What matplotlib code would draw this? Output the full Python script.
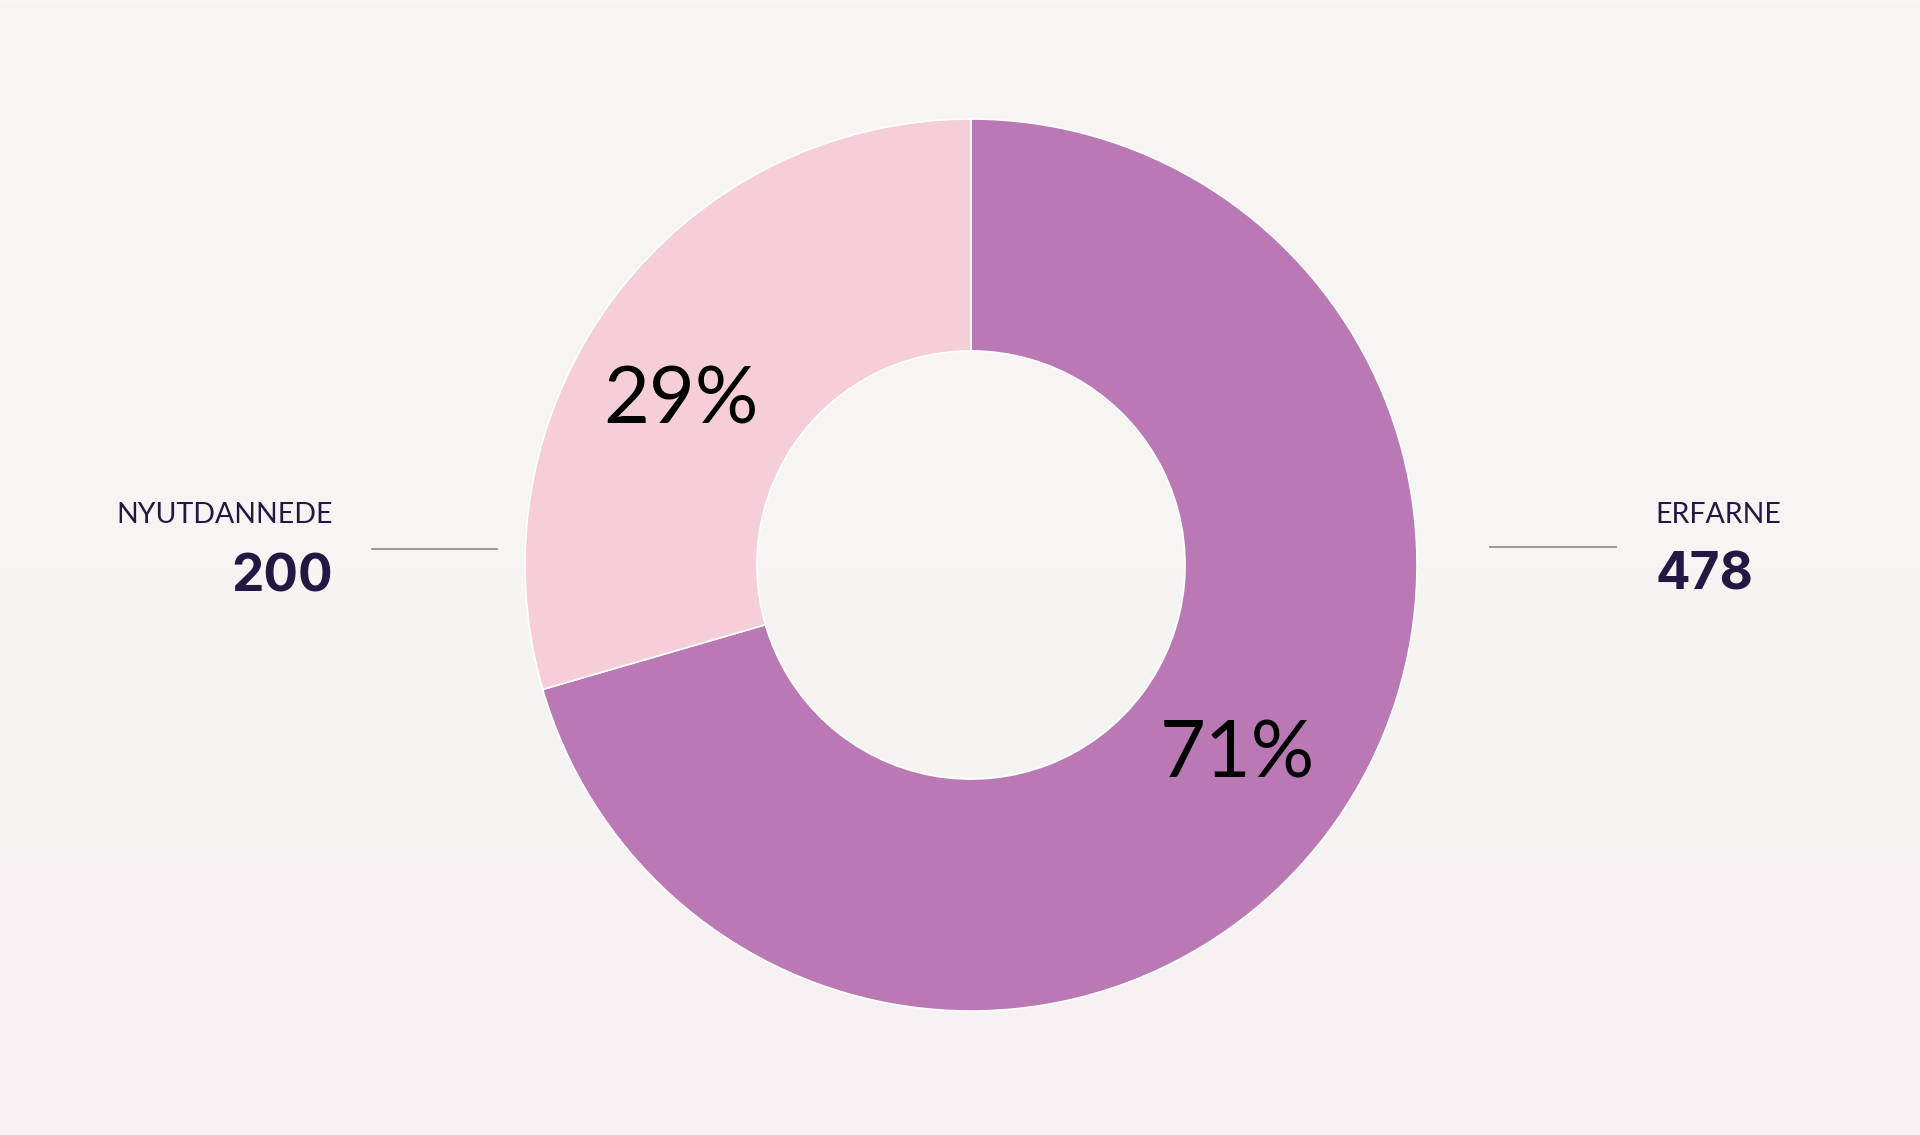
import numpy as np
import matplotlib
matplotlib.use("Agg")
import matplotlib.pyplot as plt
from matplotlib.colors import LinearSegmentedColormap

# data
categories = ["ERFARNE", "NYUTDANNEDE"]
counts = [478, 200]
colors = ["#BA78B4", "#F5CED7"]

BG_TOP = "#F8F6F5"
BG_BOTTOM = "#F6F2F3"
TEXT = "#231842"

W, H = 1920, 1135
CX, CY, R = 971, 565, 446   # pie centre / radius in pixels


def px(x, y):
    """pixel position -> data coords (pie radius = 1)"""
    return (x - CX) / R, (CY - y) / R


fig = plt.figure(figsize=(W / 100, H / 100), dpi=100)
fig.patch.set_facecolor(BG_TOP)
ax = fig.add_axes([0, 0, 1, 1])

wedges, _ = ax.pie(counts, colors=colors, startangle=90, counterclock=False,
                   radius=1, wedgeprops=dict(width=0.52, edgecolor="white", linewidth=1.2))

# pie() resets the limits, so set them afterwards
ax.set_aspect("auto")
x0, x1 = -CX / R, (W - CX) / R
y0, y1 = -(H - CY) / R, CY / R
ax.set_xlim(x0, x1)
ax.set_ylim(y0, y1)
ax.axis("off")

# soft vertical background gradient
cmap = LinearSegmentedColormap.from_list("bg", [BG_TOP, BG_BOTTOM])
ax.imshow(np.linspace(0, 1, 256).reshape(-1, 1), cmap=cmap, aspect="auto",
          extent=(x0, x1, y0, y1), origin="upper", zorder=-10)

total = sum(counts)
pcts = [round(c / total * 100) for c in counts]

# percentage labels
ax.text(*px(1237, 755), f"{pcts[0]}%", ha="center", va="center", fontsize=57,
        family="Lato", fontweight="normal", color="black")
ax.text(*px(681, 401), f"{pcts[1]}%", ha="center", va="center", fontsize=57,
        family="Lato", fontweight="normal", color="black")

# side annotations
ax.text(*px(333, 523), categories[1], ha="right", va="baseline", fontsize=20.5,
        family="Lato", fontweight="normal", color=TEXT)
ax.text(*px(333, 591), f"{counts[1]}", ha="right", va="baseline", fontsize=37,
        family="Inter", fontweight="bold", color=TEXT)
ax.text(*px(1655, 523), categories[0], ha="left", va="baseline", fontsize=20.5,
        family="Lato", fontweight="normal", color=TEXT)
ax.text(*px(1655, 590), f"{counts[0]}", ha="left", va="baseline", fontsize=37,
        family="Inter", fontweight="bold", color=TEXT)

for xa, xb, y in [(372, 497, 549), (1490, 1616, 547)]:
    a, b = px(xa, y), px(xb, y)
    ax.plot([a[0], b[0]], [a[1], b[1]], color="#8a8a8a", linewidth=1.2)

fig.savefig("out.png", dpi=100, facecolor=BG_TOP)
